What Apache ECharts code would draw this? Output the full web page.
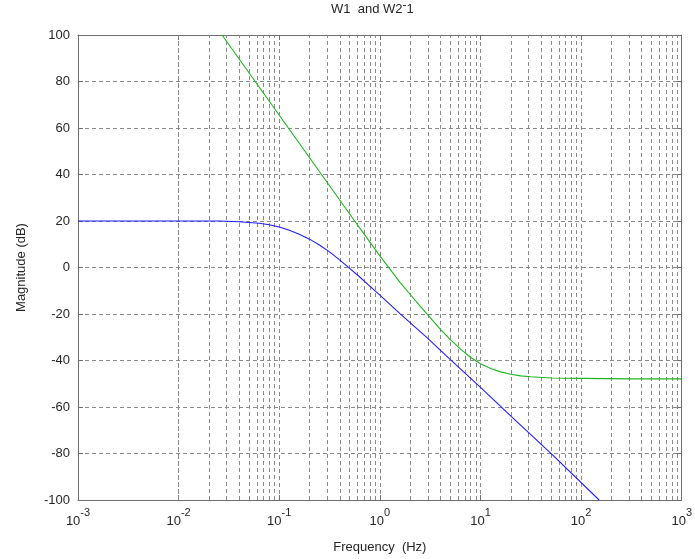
<!DOCTYPE html>
<html>
<head>
<meta charset="utf-8">
<title>W1 and W2^-1</title>
<script src="https://cdn.jsdelivr.net/npm/echarts@6/dist/echarts.min.js"></script>
<style>
  html, body { margin: 0; padding: 0; background: #fff; }
  #chart { width: 695px; height: 559px; }
</style>
</head>
<body>
<div id="chart"></div>
<script>
// Frequency response magnitudes (Hz, dB)
const w1Freq = [0.001, 0.01, 0.0251, 0.0398, 0.0631, 0.0794, 0.1, 0.126, 0.158, 0.2, 0.251, 0.316, 0.398, 0.501, 0.631, 0.794, 1, 1.585, 2.94, 4.99, 10, 20.2, 52, 151];
const w1Mag  = [20, 20, 20, 19.7, 19.0, 18.4, 17.4, 16.0, 14.3, 12.2, 9.7, 6.7, 3.3, -0.4, -4.1, -8.0, -11.9, -19.8, -30.2, -39.5, -51.6, -64.0, -80.6, -100];

const w2invFreq = [0.027, 0.562, 0.794, 1, 1.259, 1.585, 1.995, 2.512, 3.162, 3.981, 5.012, 6.31, 7.943, 10, 12.59, 15.85, 19.95, 25.12, 31.62, 50.12, 100, 316.2, 1000];
const w2invMag  = [100, 20, 11.0, 5.0, -0.7, -6.4, -11.5, -16.6, -21.6, -26.5, -31.0, -35.0, -38.6, -41.4, -43.4, -44.9, -45.9, -46.6, -47.0, -47.5, -47.7, -47.9, -47.9];

// Minor grid positions (2..9 x each decade)
const decades = [0.001, 0.01, 0.1, 1, 10, 100];
const minorMultipliers = [2, 3, 4, 5, 6, 7, 8, 9];

const yTicks = { min: -100, max: 100, step: 20 };

const minorGrid = [];
decades.forEach(d => minorMultipliers.forEach(m => minorGrid.push({ xAxis: +(d * m).toPrecision(3) })));

const pair = (xs, ys) => xs.map((x, i) => [x, ys[i]]);

const FONT = 'Liberation Sans, Arial, sans-serif';
const AXIS_COLOR = '#6e6e6e';
const GRID_COLOR = '#8a8a8a';
const TEXT_COLOR = '#262626';
const dash = [4, 3];

// Exponent tokens are lifted with bottom padding on a taller box
const supRich = {
  b: { fontSize: 13, fontFamily: FONT, fontWeight: 'normal', color: TEXT_COLOR, lineHeight: 14 },
  s: { fontSize: 11, fontFamily: FONT, fontWeight: 'normal', color: TEXT_COLOR, lineHeight: 10, padding: [0, 0, 16, 0] }
};

const xBase = {
  type: 'log',
  logBase: 10,
  min: 0.001,
  max: 1000,
  interval: 1,
  gridIndex: 0,
  axisLine: { show: true, onZero: false, lineStyle: { color: AXIS_COLOR, width: 1 } },
  axisTick: { show: true, inside: true, length: 5, lineStyle: { color: AXIS_COLOR } },
  minorTick: { show: false },
  splitLine: { show: false }
};

const yBase = {
  type: 'value',
  min: yTicks.min,
  max: yTicks.max,
  interval: yTicks.step,
  gridIndex: 0,
  axisLine: { show: true, onZero: false, lineStyle: { color: AXIS_COLOR, width: 1 } },
  axisTick: { show: true, inside: true, length: 5, lineStyle: { color: AXIS_COLOR } },
  splitLine: { show: false }
};

const option = {
  animation: false,
  backgroundColor: '#ffffff',
  title: {
    text: '{a|W1  and W2}{s|-}{a|1}',
    left: 331,
    top: 2,
    padding: 0,
    textStyle: {
      fontWeight: 'normal',
      rich: {
        a: { fontSize: 13, fontFamily: FONT, fontWeight: 'normal', color: TEXT_COLOR, lineHeight: 14 },
        s: { fontSize: 12, fontFamily: FONT, fontWeight: 'normal', color: TEXT_COLOR, lineHeight: 10, padding: [0, 0, 6, 0] }
      }
    }
  },
  grid: { left: 78, right: 8, top: 35, bottom: 59, containLabel: false },
  xAxis: [
    Object.assign({}, xBase, {
      position: 'bottom',
      name: 'Frequency  (Hz)',
      nameLocation: 'middle',
      nameGap: 41,
      nameTextStyle: { fontSize: 13, fontFamily: FONT, color: TEXT_COLOR },
      axisLabel: {
        margin: 14,
        formatter: v => '{b|10}{s|' + Math.round(Math.log10(v)) + '}',
        rich: supRich
      },
      splitLine: { show: true, lineStyle: { color: GRID_COLOR, type: dash, width: 1 } }
    }),
    Object.assign({}, xBase, { position: 'top', axisLabel: { show: false } })
  ],
  yAxis: [
    Object.assign({}, yBase, {
      position: 'left',
      name: 'Magnitude (dB)',
      nameLocation: 'middle',
      nameGap: 50,
      nameTextStyle: { fontSize: 13, fontFamily: FONT, color: TEXT_COLOR },
      axisLabel: { margin: 8, fontSize: 13, fontFamily: FONT, color: TEXT_COLOR },
      splitLine: { show: true, lineStyle: { color: GRID_COLOR, type: dash, width: 1 } }
    }),
    Object.assign({}, yBase, { position: 'right', axisLabel: { show: false } })
  ],
  series: [
    {
      name: 'W1',
      type: 'line',
      xAxisIndex: 0,
      yAxisIndex: 0,
      data: pair(w1Freq, w1Mag),
      showSymbol: false,
      clip: true,
      lineStyle: { color: '#1f1fff', width: 1.1 },
      z: 5,
      markLine: {
        silent: true,
        symbol: 'none',
        label: { show: false },
        lineStyle: { color: GRID_COLOR, type: dash, width: 1 },
        data: minorGrid,
        z: 1
      }
    },
    {
      name: 'W2^-1',
      type: 'line',
      xAxisIndex: 0,
      yAxisIndex: 0,
      data: pair(w2invFreq, w2invMag),
      showSymbol: false,
      clip: true,
      lineStyle: { color: '#1fb41f', width: 1.1 },
      z: 5
    }
  ]
};

const chart = echarts.init(document.getElementById('chart'), null, { renderer: 'canvas' });
chart.setOption(option);
</script>
</body>
</html>
